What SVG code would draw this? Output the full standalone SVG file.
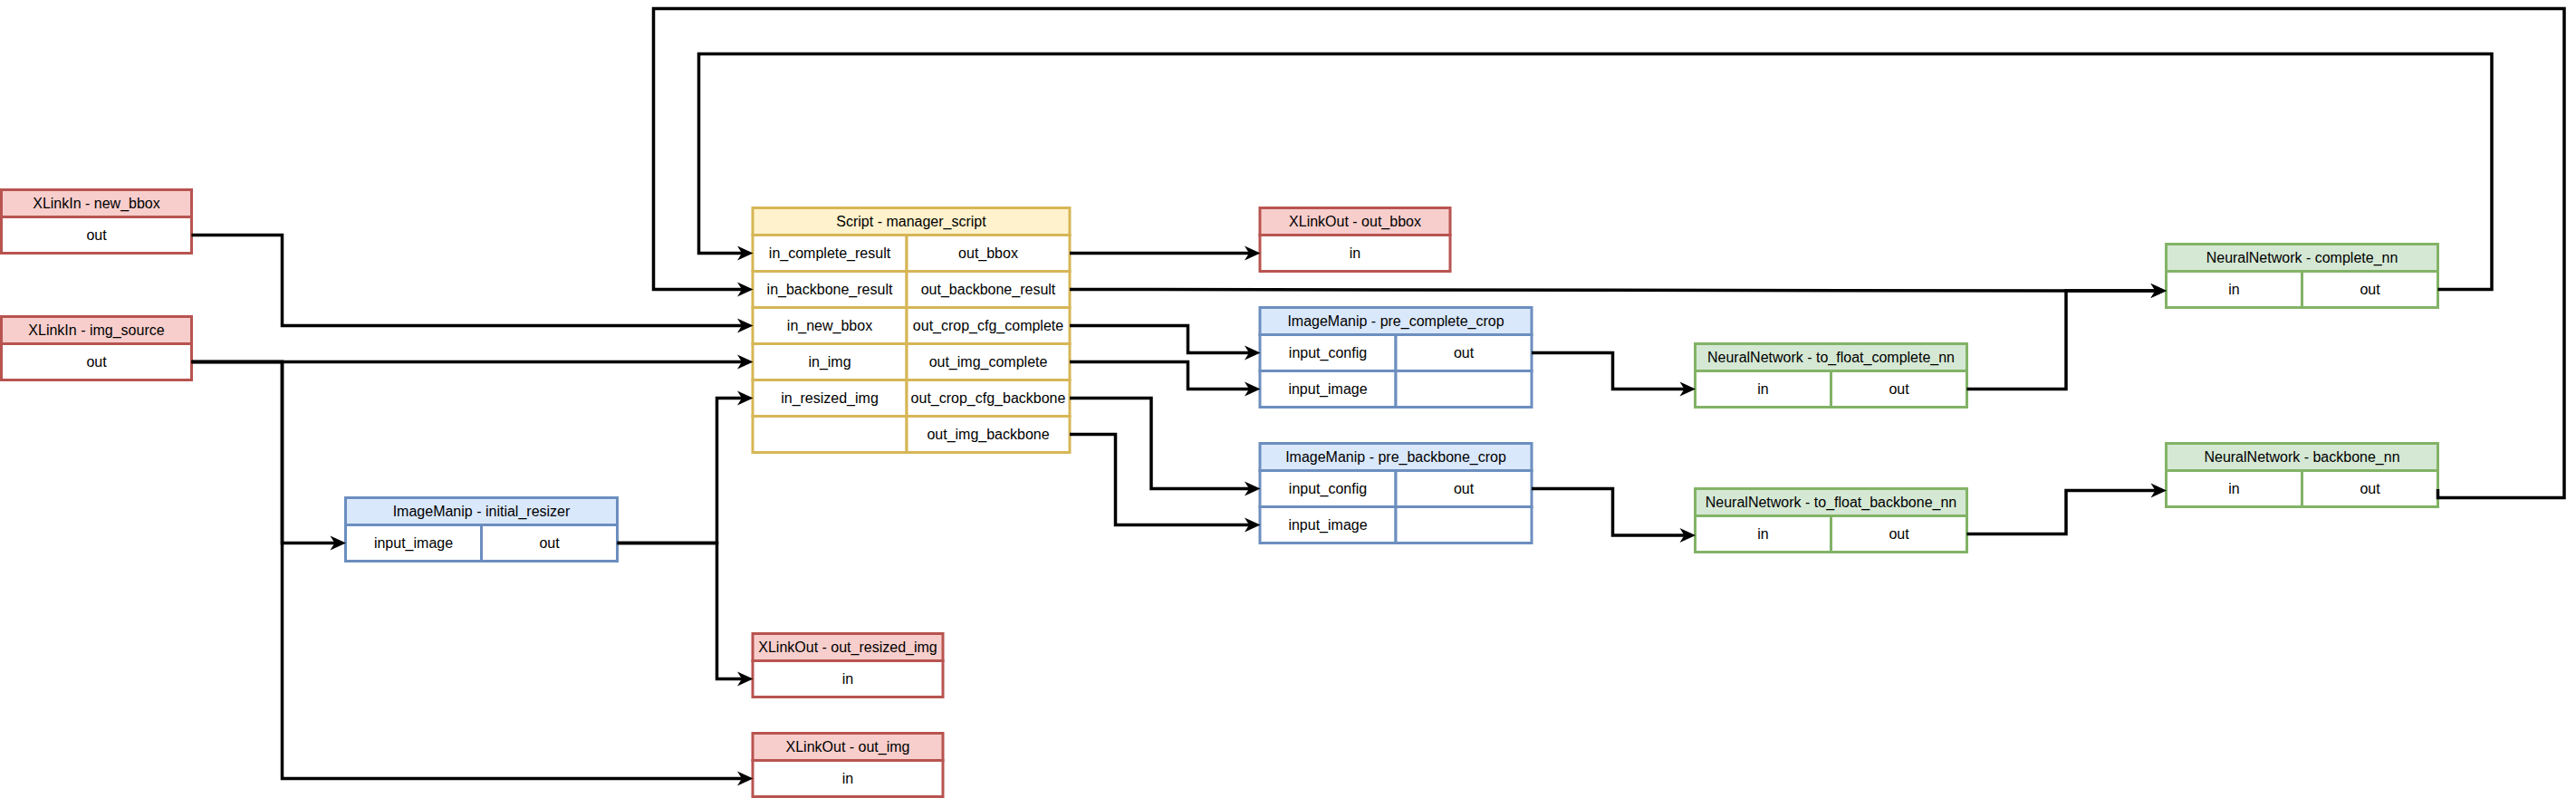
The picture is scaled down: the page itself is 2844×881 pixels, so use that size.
<svg xmlns="http://www.w3.org/2000/svg" width="2844" height="881" viewBox="0 0 2844 881">
<style>
.box{stroke-width:3}
.red{fill:#f8cecc;stroke:#b85450}
.redc{fill:#ffffff;stroke:#b85450}
.blue{fill:#dae8fc;stroke:#6c8ebf}
.bluec{fill:#ffffff;stroke:#6c8ebf}
.green{fill:#d5e8d4;stroke:#82b366}
.greenc{fill:#ffffff;stroke:#82b366}
.yel{fill:#fff2cc;stroke:#d6b656}
.yelc{fill:#ffffff;stroke:#d6b656}
text{font-family:"Liberation Sans",Arial,sans-serif;font-size:16px;fill:#000;text-anchor:middle;dominant-baseline:central}
.edge{fill:none;stroke:#000;stroke-width:3.5;stroke-linejoin:miter}
</style>
<defs>
<marker id="arr" markerUnits="userSpaceOnUse" markerWidth="20" markerHeight="18" viewBox="0 -9 20 18" refX="7" refY="0" orient="auto" overflow="visible">
<path d="M0,-8 L17.5,0 L0,8 L5,0 Z" fill="#000"/>
</marker>
</defs>
<rect width="2844" height="881" fill="#ffffff"/>

<g id="xlinkin_new_bbox">
<rect class="box red" x="1.5" y="209.5" width="210" height="30"/>
<rect class="box redc" x="1.5" y="239.5" width="210" height="40"/>
<text x="106.5" y="224.5">XLinkIn - new_bbox</text>
<text x="106.5" y="259.5">out</text>
</g>

<g id="xlinkin_img_source">
<rect class="box red" x="1.5" y="349.5" width="210" height="30"/>
<rect class="box redc" x="1.5" y="379.5" width="210" height="40"/>
<text x="106.5" y="364.5">XLinkIn - img_source</text>
<text x="106.5" y="399.5">out</text>
</g>

<g id="script_manager_script">
<rect class="box yel" x="831" y="229.5" width="350" height="30"/>
<rect class="box yelc" x="831" y="259.5" width="170" height="40"/>
<rect class="box yelc" x="1001" y="259.5" width="180" height="40"/>
<rect class="box yelc" x="831" y="299.5" width="170" height="40"/>
<rect class="box yelc" x="1001" y="299.5" width="180" height="40"/>
<rect class="box yelc" x="831" y="339.5" width="170" height="40"/>
<rect class="box yelc" x="1001" y="339.5" width="180" height="40"/>
<rect class="box yelc" x="831" y="379.5" width="170" height="40"/>
<rect class="box yelc" x="1001" y="379.5" width="180" height="40"/>
<rect class="box yelc" x="831" y="419.5" width="170" height="40"/>
<rect class="box yelc" x="1001" y="419.5" width="180" height="40"/>
<rect class="box yelc" x="831" y="459.5" width="170" height="40"/>
<rect class="box yelc" x="1001" y="459.5" width="180" height="40"/>
<text x="1006" y="244.5">Script - manager_script</text>
<text x="916" y="279.5">in_complete_result</text>
<text x="1091" y="279.5">out_bbox</text>
<text x="916" y="319.5">in_backbone_result</text>
<text x="1091" y="319.5">out_backbone_result</text>
<text x="916" y="359.5">in_new_bbox</text>
<text x="1091" y="359.5">out_crop_cfg_complete</text>
<text x="916" y="399.5">in_img</text>
<text x="1091" y="399.5">out_img_complete</text>
<text x="916" y="439.5">in_resized_img</text>
<text x="1091" y="439.5">out_crop_cfg_backbone</text>
<text x="1091" y="479.5">out_img_backbone</text>
</g>

<g id="xlinkout_out_bbox">
<rect class="box red" x="1391" y="229.5" width="210" height="30"/>
<rect class="box redc" x="1391" y="259.5" width="210" height="40"/>
<text x="1496" y="244.5">XLinkOut - out_bbox</text>
<text x="1496" y="279.5">in</text>
</g>

<g id="imagemanip_pre_complete_crop">
<rect class="box blue" x="1391" y="339.5" width="300" height="30"/>
<rect class="box bluec" x="1391" y="369.5" width="150" height="40"/>
<rect class="box bluec" x="1541" y="369.5" width="150" height="40"/>
<rect class="box bluec" x="1391" y="409.5" width="150" height="40"/>
<rect class="box bluec" x="1541" y="409.5" width="150" height="40"/>
<text x="1541" y="354.5">ImageManip - pre_complete_crop</text>
<text x="1466" y="389.5">input_config</text>
<text x="1616" y="389.5">out</text>
<text x="1466" y="429.5">input_image</text>
</g>

<g id="imagemanip_pre_backbone_crop">
<rect class="box blue" x="1391" y="489.5" width="300" height="30"/>
<rect class="box bluec" x="1391" y="519.5" width="150" height="40"/>
<rect class="box bluec" x="1541" y="519.5" width="150" height="40"/>
<rect class="box bluec" x="1391" y="559.5" width="150" height="40"/>
<rect class="box bluec" x="1541" y="559.5" width="150" height="40"/>
<text x="1541" y="504.5">ImageManip - pre_backbone_crop</text>
<text x="1466" y="539.5">input_config</text>
<text x="1616" y="539.5">out</text>
<text x="1466" y="579.5">input_image</text>
</g>

<g id="imagemanip_initial_resizer">
<rect class="box blue" x="381.5" y="549.5" width="300" height="30"/>
<rect class="box bluec" x="381.5" y="579.5" width="150" height="40"/>
<rect class="box bluec" x="531.5" y="579.5" width="150" height="40"/>
<text x="531.5" y="564.5">ImageManip - initial_resizer</text>
<text x="456.5" y="599.5">input_image</text>
<text x="606.5" y="599.5">out</text>
</g>

<g id="xlinkout_out_resized_img">
<rect class="box red" x="831" y="699.5" width="210" height="30"/>
<rect class="box redc" x="831" y="729.5" width="210" height="40"/>
<text x="936" y="714.5">XLinkOut - out_resized_img</text>
<text x="936" y="749.5">in</text>
</g>

<g id="xlinkout_out_img">
<rect class="box red" x="831" y="809.5" width="210" height="30"/>
<rect class="box redc" x="831" y="839.5" width="210" height="40"/>
<text x="936" y="824.5">XLinkOut - out_img</text>
<text x="936" y="859.5">in</text>
</g>

<g id="nn_to_float_complete_nn">
<rect class="box green" x="1871.5" y="379.5" width="300" height="30"/>
<rect class="box greenc" x="1871.5" y="409.5" width="150" height="40"/>
<rect class="box greenc" x="2021.5" y="409.5" width="150" height="40"/>
<text x="2021.5" y="394.5">NeuralNetwork - to_float_complete_nn</text>
<text x="1946.5" y="429.5">in</text>
<text x="2096.5" y="429.5">out</text>
</g>

<g id="nn_to_float_backbone_nn">
<rect class="box green" x="1871.5" y="539.5" width="300" height="30"/>
<rect class="box greenc" x="1871.5" y="569.5" width="150" height="40"/>
<rect class="box greenc" x="2021.5" y="569.5" width="150" height="40"/>
<text x="2021.5" y="554.5">NeuralNetwork - to_float_backbone_nn</text>
<text x="1946.5" y="589.5">in</text>
<text x="2096.5" y="589.5">out</text>
</g>

<g id="nn_complete_nn">
<rect class="box green" x="2391.5" y="269.5" width="300" height="30"/>
<rect class="box greenc" x="2391.5" y="299.5" width="150" height="40"/>
<rect class="box greenc" x="2541.5" y="299.5" width="150" height="40"/>
<text x="2541.5" y="284.5">NeuralNetwork - complete_nn</text>
<text x="2466.5" y="319.5">in</text>
<text x="2616.5" y="319.5">out</text>
</g>

<g id="nn_backbone_nn">
<rect class="box green" x="2391.5" y="489.5" width="300" height="30"/>
<rect class="box greenc" x="2391.5" y="519.5" width="150" height="40"/>
<rect class="box greenc" x="2541.5" y="519.5" width="150" height="40"/>
<text x="2541.5" y="504.5">NeuralNetwork - backbone_nn</text>
<text x="2466.5" y="539.5">in</text>
<text x="2616.5" y="539.5">out</text>
</g>

<g id="connectors">
<path class="edge" marker-end="url(#arr)" d="M211.5,259.5 H311.5 V359.5 H821"/>
<path class="edge" marker-end="url(#arr)" d="M211.5,399.5 H821"/>
<path class="edge" marker-end="url(#arr)" d="M211.5,399.5 H311.5 V599.5 H371.5"/>
<path class="edge" marker-end="url(#arr)" d="M211.5,399.5 H311.5 V859.5 H821"/>
<path class="edge" marker-end="url(#arr)" d="M681.5,599.5 H791.5 V439.5 H821"/>
<path class="edge" marker-end="url(#arr)" d="M681.5,599.5 H791.5 V749.5 H821"/>
<path class="edge" marker-end="url(#arr)" d="M1181,279.5 H1381"/>
<path class="edge" marker-end="url(#arr)" d="M1181,319.5 L2281,321 H2381.5"/>
<path class="edge" marker-end="url(#arr)" d="M1181,359.5 H1311.5 V389.5 H1381"/>
<path class="edge" marker-end="url(#arr)" d="M1181,399.5 H1311.5 V429.5 H1381"/>
<path class="edge" marker-end="url(#arr)" d="M1181,439.5 H1271 V539.5 H1381"/>
<path class="edge" marker-end="url(#arr)" d="M1181,479.5 H1231.5 V579.5 H1381"/>
<path class="edge" marker-end="url(#arr)" d="M1691,389.5 H1780.5 V429.5 H1861.5"/>
<path class="edge" marker-end="url(#arr)" d="M1691,539.5 H1780.5 V591 H1861.5"/>
<path class="edge" marker-end="url(#arr)" d="M2171.5,429.5 H2281 V321 H2381.5"/>
<path class="edge" marker-end="url(#arr)" d="M2171.5,589.5 H2281 V541.5 H2381.5"/>
<path class="edge" marker-end="url(#arr)" d="M2691.5,319.5 H2751 V59.5 H771.5 V279.5 H821"/>
<path class="edge" marker-end="url(#arr)" d="M2691.5,540 V549.5 H2831 V9.5 H721.5 V319.5 H821"/>
</g>
</svg>
